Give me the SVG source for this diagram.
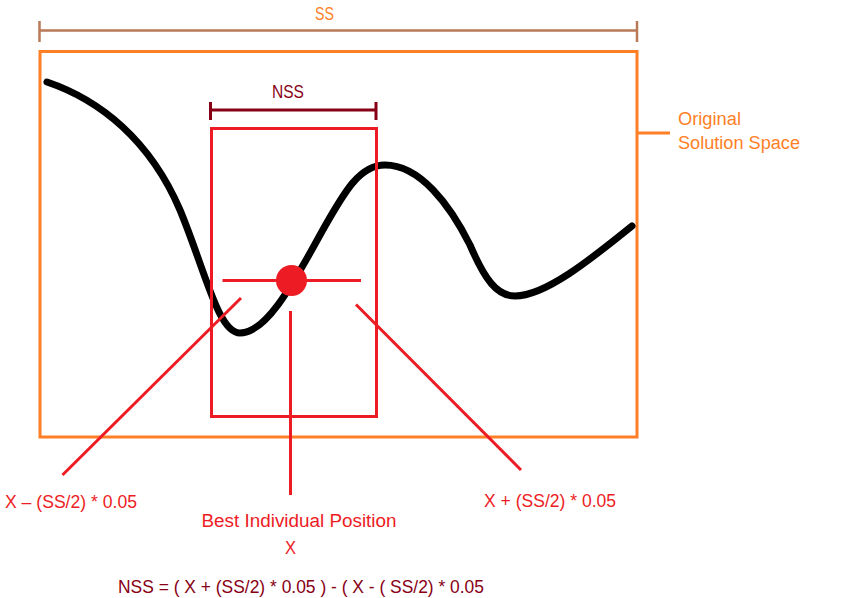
<svg xmlns="http://www.w3.org/2000/svg" width="842" height="598" viewBox="0 0 842 598">
<style>
text{font-family:"Liberation Sans",Arial,sans-serif;font-size:18px}
.orange{fill:#FF7F27}
.red{fill:#ED1C24}
.dark{fill:#880015}
.rl{stroke:#ED1C24;stroke-width:3;fill:none}
</style>
<rect width="842" height="598" fill="#FFFFFF"/>
<g id="ss-bracket">
<path d="M39.5,30.5 H637 M39.5,21 V42 M637,21 V42" stroke="#B97A57" stroke-width="2.5" fill="none"/>
<text class="orange" x="315" y="20" textLength="19" lengthAdjust="spacingAndGlyphs">SS</text>
</g>
<g id="solution-space">
<rect x="40" y="51.5" width="597" height="385.5" fill="none" stroke="#FF7F27" stroke-width="3"/>
<line x1="637" y1="133" x2="670" y2="133" stroke="#FF7F27" stroke-width="3"/>
<text class="orange" x="678" y="125" textLength="63" lengthAdjust="spacingAndGlyphs">Original</text>
<text class="orange" x="678" y="148.5" textLength="122" lengthAdjust="spacingAndGlyphs">Solution Space</text>
</g>
<g id="curve">
<path d="M47,82 C100,100 150,140 180,210 C205,270 218,333 240,333 C265,333 290,290 320,235 C345,190 360,165 385,165 C420,165 450,205 470,245 C485,280 497,296 515,296 C545,296 590,260 632,226" fill="none" stroke="#000000" stroke-width="7" stroke-linecap="round" stroke-linejoin="round"/>
</g>
<g id="nss-bracket">
<path d="M210.5,110 H376 M210.5,102 V120 M376,102 V120" stroke="#880015" stroke-width="3" fill="none"/>
<text class="dark" x="272" y="97.5" textLength="32" lengthAdjust="spacingAndGlyphs">NSS</text>
</g>
<g id="new-solution-space">
<rect x="211.5" y="128.5" width="165" height="288" class="rl"/>
</g>
<g id="best-position">
<line x1="222.5" y1="280.5" x2="361" y2="280.5" class="rl"/>
<circle cx="291.5" cy="280.5" r="15.5" fill="#ED1C24"/>
</g>
<g id="connectors">
<line x1="241" y1="298" x2="62.5" y2="475" class="rl"/>
<line x1="290.5" y1="311" x2="290.5" y2="495" class="rl"/>
<line x1="356" y1="304.5" x2="521" y2="470" class="rl"/>
</g>
<g id="labels">
<text class="red" x="5" y="508" textLength="132" lengthAdjust="spacingAndGlyphs">X – (SS/2) * 0.05</text>
<text class="red" x="484" y="507" textLength="132" lengthAdjust="spacingAndGlyphs">X + (SS/2) * 0.05</text>
<text class="red" x="201.5" y="527" textLength="195" lengthAdjust="spacingAndGlyphs">Best Individual Position</text>
<text class="red" x="285" y="554" textLength="11" lengthAdjust="spacingAndGlyphs">X</text>
<text class="dark" x="118" y="593" textLength="366" lengthAdjust="spacingAndGlyphs">NSS = ( X + (SS/2) * 0.05 ) - ( X - ( SS/2) * 0.05</text>
</g>
</svg>
